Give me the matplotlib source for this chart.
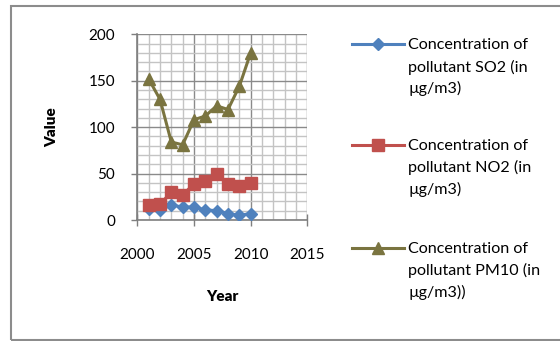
import numpy as np
import matplotlib.pyplot as plt
from matplotlib.lines import Line2D
from matplotlib.patches import Rectangle
from matplotlib.ticker import MultipleLocator

plt.rcParams['font.family'] = ['Lato', 'DejaVu Sans']

# Annual mean concentrations (µg/m3)
years = [2001, 2002, 2003, 2004, 2005, 2006, 2007, 2008, 2009, 2010]
so2 = [12, 11, 16, 14, 14, 11, 10, 7, 5, 7]
no2 = [16, 17, 30, 27, 39, 42, 50, 39, 37, 40]
pm10 = [152, 130, 84, 81, 108, 112, 123, 119, 144, 180]

labels = [
    ['Concentration of', 'pollutant SO2 (in', 'µg/m3)'],
    ['Concentration of', 'pollutant NO2 (in', 'µg/m3)'],
    ['Concentration of', 'pollutant PM10 (in', 'µg/m3))'],
]
colors = ['#4f81bd', '#c0504d', '#7a7440']
markers = ['D', 's', '^']
msizes = [6.5, 8, 8]

fig = plt.figure(figsize=(5.6, 3.41), dpi=100)
ax = fig.add_axes([0.2452, 0.3548, 0.3036, 0.5446])

for vals, c, m, ms in zip([so2, no2, pm10], colors, markers, msizes):
    ax.plot(years, vals, color=c, marker=m, markersize=ms, linewidth=2.2,
            markeredgecolor=c, zorder=3)

ax.set_xlim(2000, 2015)
ax.set_ylim(0, 200)
ax.xaxis.set_major_locator(MultipleLocator(5))
ax.xaxis.set_minor_locator(MultipleLocator(1))
ax.yaxis.set_major_locator(MultipleLocator(50))
ax.yaxis.set_minor_locator(MultipleLocator(10))

ax.grid(which='major', color='#8a8a8a', linewidth=1.0, zorder=1)
ax.grid(which='minor', color='#c4c4c4', linewidth=1.0, zorder=0)
ax.set_axisbelow(True)

for side in ['top', 'right']:
    ax.spines[side].set_visible(False)
for side in ['left', 'bottom']:
    ax.spines[side].set_color('#7f7f7f')
    ax.spines[side].set_linewidth(1.2)

ax.tick_params(which='minor', length=0)
ax.tick_params(axis='y', which='major', direction='out', length=4, width=1,
               color='#7f7f7f', pad=12, labelsize=11)
ax.tick_params(axis='x', which='major', direction='inout', length=8, width=1,
               color='#7f7f7f', pad=16, labelsize=11)

ax.set_xlabel('Year', fontsize=11, fontweight='heavy', labelpad=20)
ax.set_ylabel('Value', fontsize=11, fontweight='heavy', labelpad=22)

# legend built by hand so each three-line label sits beside its key
key_y = [0.870, 0.575, 0.273]
for ky, c, m, ms, lines in zip(key_y, colors, markers, msizes, labels):
    fig.add_artist(Line2D([0.629, 0.721], [ky, ky], color=c, linewidth=2.2,
                          transform=fig.transFigure))
    fig.add_artist(Line2D([0.675], [ky], color=c, marker=m, markersize=ms,
                          markeredgecolor=c, transform=fig.transFigure))
    for i, t in enumerate(lines):
        fig.text(0.729, ky - 0.003 - i * 0.0636, t, fontsize=11.6, va='center',
                 ha='left')

fig.add_artist(Rectangle((0.020, 0.003), 1.1, 0.98, transform=fig.transFigure,
                         fill=False, edgecolor='#8c8c8c', linewidth=1.5,
                         clip_on=False))

fig.savefig('out.png', dpi=100)
